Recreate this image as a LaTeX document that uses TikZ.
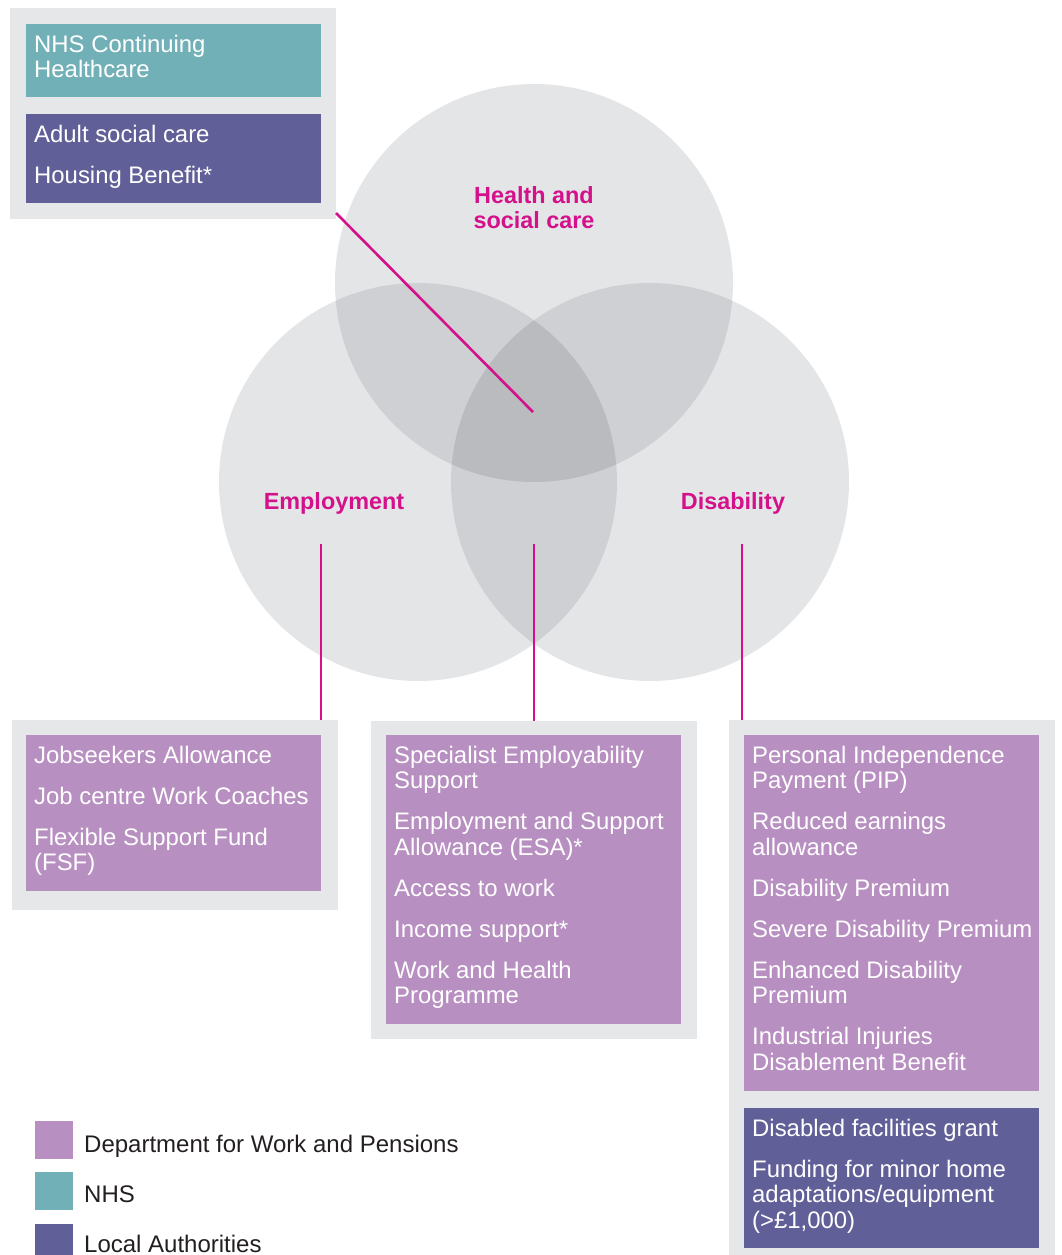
\documentclass[tikz,border=0pt]{standalone}
\usepackage{fontspec}
\setmainfont{Liberation Sans}
\definecolor{dwp}{HTML}{B88FC1}
\definecolor{nhs}{HTML}{72B0B7}
\definecolor{la}{HTML}{615F98}
\definecolor{panel}{HTML}{E6E7E8}
\definecolor{circ}{HTML}{E4E5E7}
\definecolor{ovtwo}{HTML}{CFD0D3}
\definecolor{ovthree}{HTML}{B9BBBF}
\definecolor{mag}{HTML}{D4118B}
\definecolor{legtext}{HTML}{231F20}
\newcommand\tl{\rule{0pt}{18pt}}
\tikzset{
  panelbox/.style={fill=panel, inner sep=0pt, outer sep=0pt, anchor=north west},
  colbox/.style={inner sep=0pt, outer sep=0pt, anchor=north west},
  itemtext/.style={text=white, align=left, inner sep=0pt, anchor=north west,
    font=\fontsize{23.9}{25.5}\selectfont},
  venlbl/.style={text=mag, align=center, inner sep=0pt,
    font=\bfseries\fontsize{23.4}{25}\selectfont},
  conn/.style={draw=mag, line width=2.6pt},
  legsq/.style={inner sep=0pt, outer sep=0pt, anchor=north west, minimum width=38pt, minimum height=38pt},
  legtxt/.style={text=legtext, inner sep=0pt, anchor=base west, font=\fontsize{24}{25.5}\selectfont}
}
\begin{document}
\begin{tikzpicture}[x=1pt,y=-1pt]
\useasboundingbox (0,0) rectangle (1062,1255);
% Venn circles
\coordinate (cH) at (534,283);
\coordinate (cE) at (418,482);
\coordinate (cD) at (650,482);
\fill[circ] (cH) circle[radius=199];
\fill[circ] (cE) circle[radius=199];
\fill[circ] (cD) circle[radius=199];
\begin{scope}
  \clip (cH) circle[radius=199];
  \fill[ovtwo] (cE) circle[radius=199];
  \fill[ovtwo] (cD) circle[radius=199];
\end{scope}
\begin{scope}
  \clip (cE) circle[radius=199];
  \fill[ovtwo] (cD) circle[radius=199];
\end{scope}
\begin{scope}
  \clip (cH) circle[radius=199];
  \clip (cE) circle[radius=199];
  \fill[ovthree] (cD) circle[radius=199];
\end{scope}
% Venn labels
\node[venlbl, anchor=north] (lH) at (534,186) {\rule{0pt}{17pt}Health and\\social care};
\node[venlbl, anchor=base] (lE) at (334,509) {Employment};
\node[venlbl, anchor=base] (lD) at (733,509) {Disability};
% Top-left panel
\node[panelbox, minimum width=326pt, minimum height=211pt] (hsbg) at (10,8) {};
\node[colbox, fill=nhs, minimum width=295pt, minimum height=73pt] (nhsbox) at (26,24) {};
\node[itemtext] (nhstxt) at (34,34) {\tl NHS Continuing\\Healthcare};
\node[colbox, fill=la, minimum width=295pt, minimum height=89pt] (labox1) at (26,114) {};
\node[itemtext] (latxt1) at (34,124) {\tl Adult social care\\[15.5pt]Housing Benefit*};
% Employment panel
\node[panelbox, minimum width=326pt, minimum height=190pt] (ebg) at (12,720) {};
\node[colbox, fill=dwp, minimum width=295pt, minimum height=156pt] (ebox) at (26,735) {};
\node[itemtext] (etxt) at (34,745) {\tl Jobseekers Allowance\\[15.5pt]Job centre Work Coaches\\[15.5pt]Flexible Support Fund\\(FSF)};
% Middle panel
\node[panelbox, minimum width=326pt, minimum height=318pt] (mbg) at (371,721) {};
\node[colbox, fill=dwp, minimum width=295pt, minimum height=289pt] (mbox) at (386,735) {};
\node[itemtext] (mtxt) at (394,745) {\tl Specialist Employability\\Support\\[15.5pt]Employment and Support\\Allowance (ESA)*\\[15.5pt]Access to work\\[15.5pt]Income support*\\[15.5pt]Work and Health\\Programme};
% Disability panel
\node[panelbox, minimum width=326pt, minimum height=540pt] (dbg) at (729,720) {};
\node[colbox, fill=dwp, minimum width=295pt, minimum height=356pt] (dbox) at (744,735) {};
\node[itemtext] (dtxt) at (752,745) {\tl Personal Independence\\Payment (PIP)\\[15.5pt]Reduced earnings\\allowance\\[15.5pt]Disability Premium\\[15.5pt]Severe Disability Premium\\[15.5pt]Enhanced Disability\\Premium\\[15.5pt]Industrial Injuries\\Disablement Benefit};
\node[colbox, fill=la, minimum width=295pt, minimum height=140pt] (labox2) at (744,1108) {};
\node[itemtext] (latxt2) at (752,1118) {\tl Disabled facilities grant\\[15.5pt]Funding for minor home\\adaptations/equipment\\(>£1,000)};
% Connectors
\coordinate (hsEnd) at (533,412);
\coordinate (eTop) at (321,544);
\coordinate (mTop) at (534,544);
\coordinate (dTop) at (742,544);
\draw[conn] ([yshift=6pt]hsbg.south east) -- (hsEnd);
\draw[conn] (eTop) -- (ebg.north -| eTop);
\draw[conn] (mTop) -- (mbg.north -| mTop);
\draw[conn] (dTop) -- (dbg.north -| dTop);
% Legend
\node[legsq, fill=dwp] (sqdwp) at (35,1121) {};
\node[legsq, fill=nhs] (sqnhs) at (35,1172) {};
\node[legsq, fill=la] (sqla) at (35,1224) {};
\node[legtxt] (ldwp) at (84,1152) {Department for Work and Pensions};
\node[legtxt] (lnhs) at (84,1202) {NHS};
\node[legtxt] (lla) at (84,1252) {Local Authorities};
\end{tikzpicture}
\end{document}
